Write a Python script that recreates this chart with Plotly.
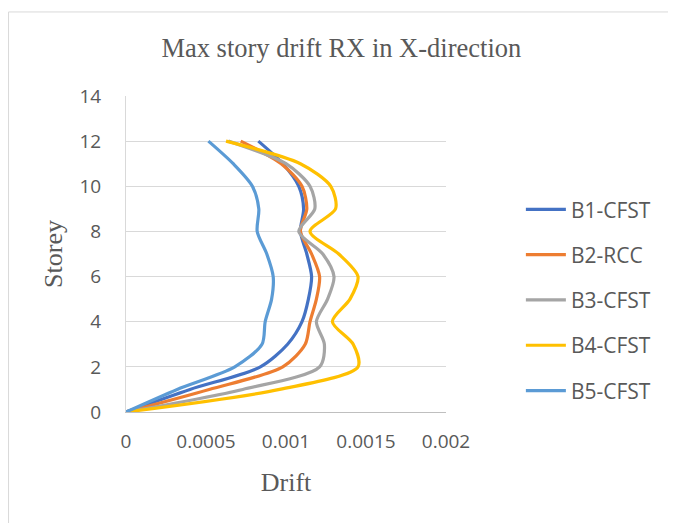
import plotly.graph_objects as go

storeys = [0, 1, 2, 3, 4, 5, 6, 7, 8, 9, 10, 11, 12]
b1_cfst = [0, 0.00040, 0.00084, 0.00101, 0.00110, 0.00114, 0.00116, 0.00113, 0.00109, 0.00111, 0.00108, 0.00098, 0.000827]
b2_rcc = [0, 0.00052, 0.00098, 0.00112, 0.00115, 0.00119, 0.00121, 0.00116, 0.00109, 0.00113, 0.00110, 0.00097, 0.000717]
b3_cfst = [0, 0.00073, 0.00121, 0.00124, 0.00119, 0.00126, 0.00130, 0.00123, 0.00108, 0.00118, 0.00115, 0.00100, 0.00064]
b4_cfst = [0, 0.00096, 0.00145, 0.00142, 0.00129, 0.00140, 0.00145, 0.00133, 0.00115, 0.00131, 0.00128, 0.00109, 0.000625]
b5_cfst = [0, 0.00032, 0.00068, 0.00085, 0.00087, 0.00091, 0.00092, 0.00088, 0.00082, 0.00083, 0.00079, 0.00067, 0.000515]

series_names = ["B1-CFST", "B2-RCC", "B3-CFST", "B4-CFST", "B5-CFST"]
series_values = [b1_cfst, b2_rcc, b3_cfst, b4_cfst, b5_cfst]
colors = ["#4472C4", "#ED7D31", "#A5A5A5", "#FFC000", "#5B9BD5"]

x_ticks = [0, 0.0005, 0.001, 0.0015, 0.002]
x_tick_labels = ["0", "0.0005", "0.001", "0.0015", "0.002"]
y_ticks = [0, 2, 4, 6, 8, 10, 12, 14]

fig = go.Figure()
for name, vals, col in zip(series_names, series_values, colors):
    fig.add_trace(go.Scatter(
        x=vals, y=storeys, name=name, mode="lines",
        line=dict(color=col, width=3.2, shape="spline", smoothing=0.8),
        legendgroup=name,
    ))

sans = "Open Sans, Liberation Sans, sans-serif"
serif = "Liberation Serif, Times New Roman, serif"
tick_font = dict(family=sans, size=19, color="#595959")

fig.update_layout(
    width=668, height=515,
    margin=dict(l=118, r=230, t=88, b=111),
    paper_bgcolor="white", plot_bgcolor="white",
    title=dict(text="Max story drift RX in X-direction", x=0.499, xanchor="center",
               xref="container", y=0.922, yanchor="middle", yref="container",
               font=dict(family=serif, size=26.5, color="#595959")),
    xaxis=dict(range=[0, 0.002], tickvals=x_ticks, ticktext=x_tick_labels,
               showgrid=False, zeroline=False, showline=True, linecolor="#BFBFBF",
               linewidth=1, ticks="", tickfont=tick_font, ticklabelstandoff=12,
               title=dict(text="Drift", font=dict(family=serif, size=26, color="#595959"),
                          standoff=20)),
    yaxis=dict(range=[0, 14], tickvals=y_ticks, showgrid=True, gridcolor="#D9D9D9",
               gridwidth=1, zeroline=False, showline=True, linecolor="#D9D9D9",
               ticks="", tickfont=tick_font, ticklabelstandoff=20,
               title=dict(text="Storey", font=dict(family=serif, size=26, color="#595959"),
                          standoff=9)),
    legend=dict(x=1.234, xanchor="left", y=0.705, yanchor="top",
                font=dict(family=sans, size=21, color="#595959"),
                traceorder="grouped", tracegroupgap=15, itemwidth=40,
                bgcolor="rgba(0,0,0,0)"),
    showlegend=True,
)

fig.add_shape(type="rect", xref="paper", yref="paper",
              x0=-0.367, x1=1.7125, y0=-0.5, y1=1.266,
              line=dict(color="#D9D9D9", width=1), fillcolor="rgba(0,0,0,0)", layer="below")

fig.write_html("out.html")
